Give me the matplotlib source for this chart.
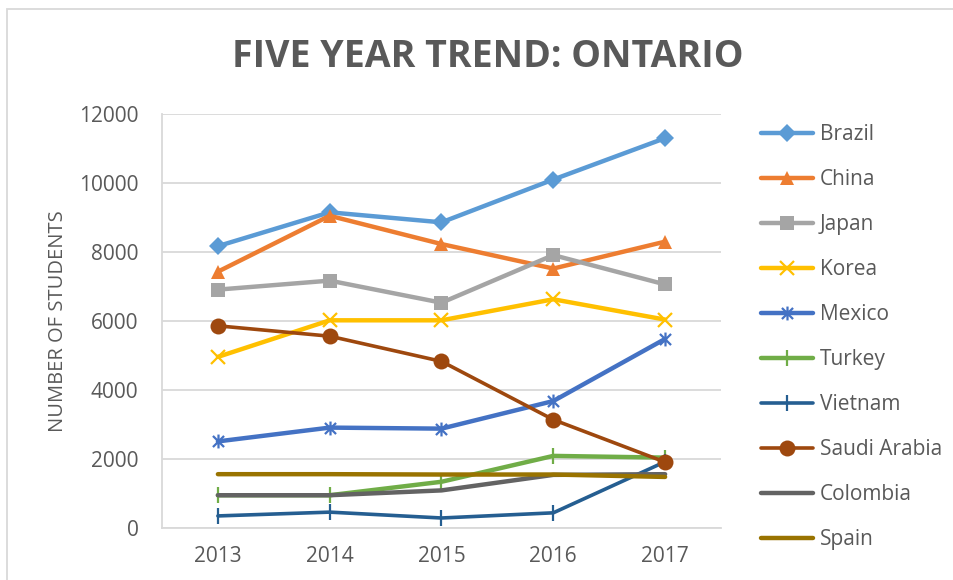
#!/usr/bin/env python3
# Five year trend of students per country, Ontario (line chart, Excel style)
import matplotlib
matplotlib.use("Agg")
import matplotlib.pyplot as plt
from matplotlib.path import Path

years = ["2013", "2014", "2015", "2016", "2017"]

brazil = [8170, 9150, 8860, 10100, 11300]
china = [7430, 9050, 8230, 7520, 8300]
japan = [6910, 7170, 6530, 7910, 7060]
korea = [4960, 6020, 6020, 6630, 6040]
mexico = [2510, 2910, 2880, 3680, 5480]
turkey = [950, 950, 1340, 2090, 2040]
vietnam = [350, 460, 290, 440, 1920]
saudi = [5860, 5560, 4830, 3140, 1910]
colombia = [950, 950, 1090, 1540, 1560]
spain = [1560, 1560, 1550, 1550, 1480]

TXT = "#595959"
GRID = "#D9D9D9"

# excel "star" marker: x with a vertical bar
star = Path([(-1, -1), (1, 1), (-1, 1), (1, -1), (0, -1.25), (0, 1.25)],
            [Path.MOVETO, Path.LINETO, Path.MOVETO, Path.LINETO, Path.MOVETO, Path.LINETO])

series = [
    ("Brazil", brazil, "#5B9BD5", "D", 9.5, 3.2),
    ("China", china, "#ED7D31", "^", 10.5, 3.2),
    ("Japan", japan, "#A5A5A5", "s", 9.5, 3.2),
    ("Korea", korea, "#FFC000", "x", 10, 3.2),
    ("Mexico", mexico, "#4472C4", star, 10, 3.2),
    ("Turkey", turkey, "#70AD47", "|", 12, 3.2),
    ("Vietnam", vietnam, "#255E91", "|", 12, 2.6),
    ("Saudi Arabia", saudi, "#9E480E", "o", 11.5, 2.6),
    ("Colombia", colombia, "#636363", None, 0, 3.2),
    ("Spain", spain, "#997300", None, 0, 3.2),
]

plt.rcParams["font.family"] = ["Open Sans", "DejaVu Sans"]

fig = plt.figure(figsize=(9.54, 5.8), dpi=100)
ax = fig.add_axes([162 / 954, 1 - 528 / 580, 559 / 954, 414 / 580])

x = list(range(len(years)))
for name, vals, col, mk, ms, lw in series:
    mew = 1.6 if mk in ("x", "|") or mk is star else 0
    ax.plot(x, vals, color=col, lw=lw, marker=mk, markersize=ms,
            markeredgewidth=mew, markeredgecolor=col, markerfacecolor=col,
            label=name, solid_capstyle="round", solid_joinstyle="round")

ax.set_xlim(-0.5, len(years) - 0.5)
ax.set_ylim(0, 12000)
ax.set_yticks(range(0, 12001, 2000))
ax.set_xticks(x)
ax.set_xticklabels(years)
ax.grid(axis="y", color=GRID, lw=1.3)
ax.set_axisbelow(True)
for s in ["top", "right"]:
    ax.spines[s].set_visible(False)
for s in ["left", "bottom"]:
    ax.spines[s].set_color(GRID)
    ax.spines[s].set_linewidth(1.3)
ax.tick_params(length=0, colors=TXT, labelsize=15)
ax.tick_params(axis="y", pad=17)
ax.tick_params(axis="x", pad=13)
ax.set_ylabel("NUMBER OF STUDENTS", color=TXT, fontsize=14.5, labelpad=8)

fig.text(0.511, 0.902, "FIVE YEAR TREND: ONTARIO", ha="center", va="center",
         fontsize=27, fontweight="bold", color=TXT)

leg = fig.legend(loc="upper left", bbox_to_anchor=(753 / 954, 1 - 116 / 580),
                 frameon=False, fontsize=15, handlelength=2.5, handletextpad=0.3,
                 labelspacing=1.15, labelcolor=TXT, borderaxespad=0)

# chart border (only top and left edges are inside the picture)
fig.patches.append(plt.Rectangle((7 / 954, -10 / 580), 960 / 954, 581 / 580,
                                 transform=fig.transFigure, fill=False,
                                 edgecolor=GRID, lw=1.3))

fig.savefig("out.png", dpi=100)
